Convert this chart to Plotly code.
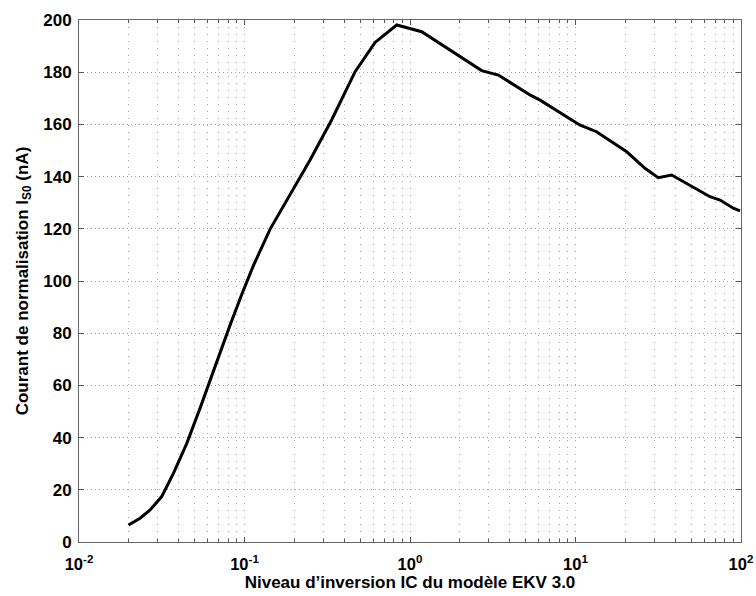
import plotly.graph_objects as go

ic = [0.0199, 0.0234, 0.0269, 0.0316, 0.0372, 0.0448, 0.0539, 0.0619, 0.0711, 0.0817,
      0.0962, 0.113, 0.1426, 0.2065, 0.249, 0.336, 0.466, 0.615, 0.831, 1.177,
      1.668, 2.71, 3.42, 5.31, 6.11, 10.6, 13.4, 16.9, 20.4, 26.3,
      31.6, 38.1, 45.9, 54.0, 65.0, 74.7, 89.9, 98.6]
is0 = [6.5, 9.1, 12.3, 17.4, 26.3, 37.8, 51.3, 62.0, 72.5, 83.0,
       94.8, 105.8, 119.8, 137.4, 146.4, 161.7, 180.2, 191.4, 198.1, 195.5,
       189.2, 180.6, 178.9, 171.3, 169.3, 159.8, 157.2, 152.8, 149.5, 143.2,
       139.6, 140.6, 137.7, 135.5, 132.3, 131.0, 127.9, 126.9]

x_tickvals = [0.01, 0.1, 1, 10, 100]
x_ticktext = ["10<sup>-2</sup>", "10<sup>-1</sup>", "10<sup>0</sup>", "10<sup>1</sup>", "10<sup>2</sup>"]
y_tickvals = [0, 20, 40, 60, 80, 100, 120, 140, 160, 180, 200]

fig = go.Figure()
fig.add_trace(go.Scatter(x=ic, y=is0, mode="lines",
                         line=dict(color="black", width=3), showlegend=False))

fam = "Liberation Sans, Arial, sans-serif"
xfont = dict(family=fam, size=16.5, color="black", weight="bold")
yfont = dict(family=fam, size=17, color="black", weight="bold")
tfont = dict(family=fam, size=17, color="black", weight="bold")
gridc = "#a0a0a0"
fig.update_layout(
    width=756, height=596,
    margin=dict(l=79, r=15, t=20, b=54),
    paper_bgcolor="white", plot_bgcolor="white",
    font=yfont,
)
fig.update_xaxes(
    type="log", range=[-2, 2], automargin=False,
    tickvals=x_tickvals, ticktext=x_ticktext, tickfont=xfont,
    ticks="inside", ticklen=5, tickcolor="#555", ticklabelstandoff=7,
    showline=True, linecolor="#666", linewidth=1, mirror="ticks",
    showgrid=True, gridcolor=gridc, griddash="1px,6px", gridwidth=1,
    minor=dict(dtick="D1", showgrid=True, gridcolor=gridc, griddash="1px,6px",
               ticks="inside", ticklen=3, tickcolor="#555"),
    zeroline=False,
    title=dict(text="Niveau d’inversion IC du modèle EKV 3.0", font=tfont, standoff=4),
)
fig.update_yaxes(
    range=[0, 200], automargin=False,
    tickvals=y_tickvals, tickfont=yfont,
    ticks="inside", ticklen=5, tickcolor="#555", ticklabelstandoff=3,
    showline=True, linecolor="#666", linewidth=1, mirror="ticks",
    showgrid=True, gridcolor=gridc, griddash="1px,3px", gridwidth=1,
    zeroline=False,
    title=dict(text="Courant de normalisation I<sub>S0</sub> (nA)", font=tfont, standoff=10),
)
fig.write_html("out.html", config={"displayModeBar": False},
               post_script="document.body.style.margin='0';")
